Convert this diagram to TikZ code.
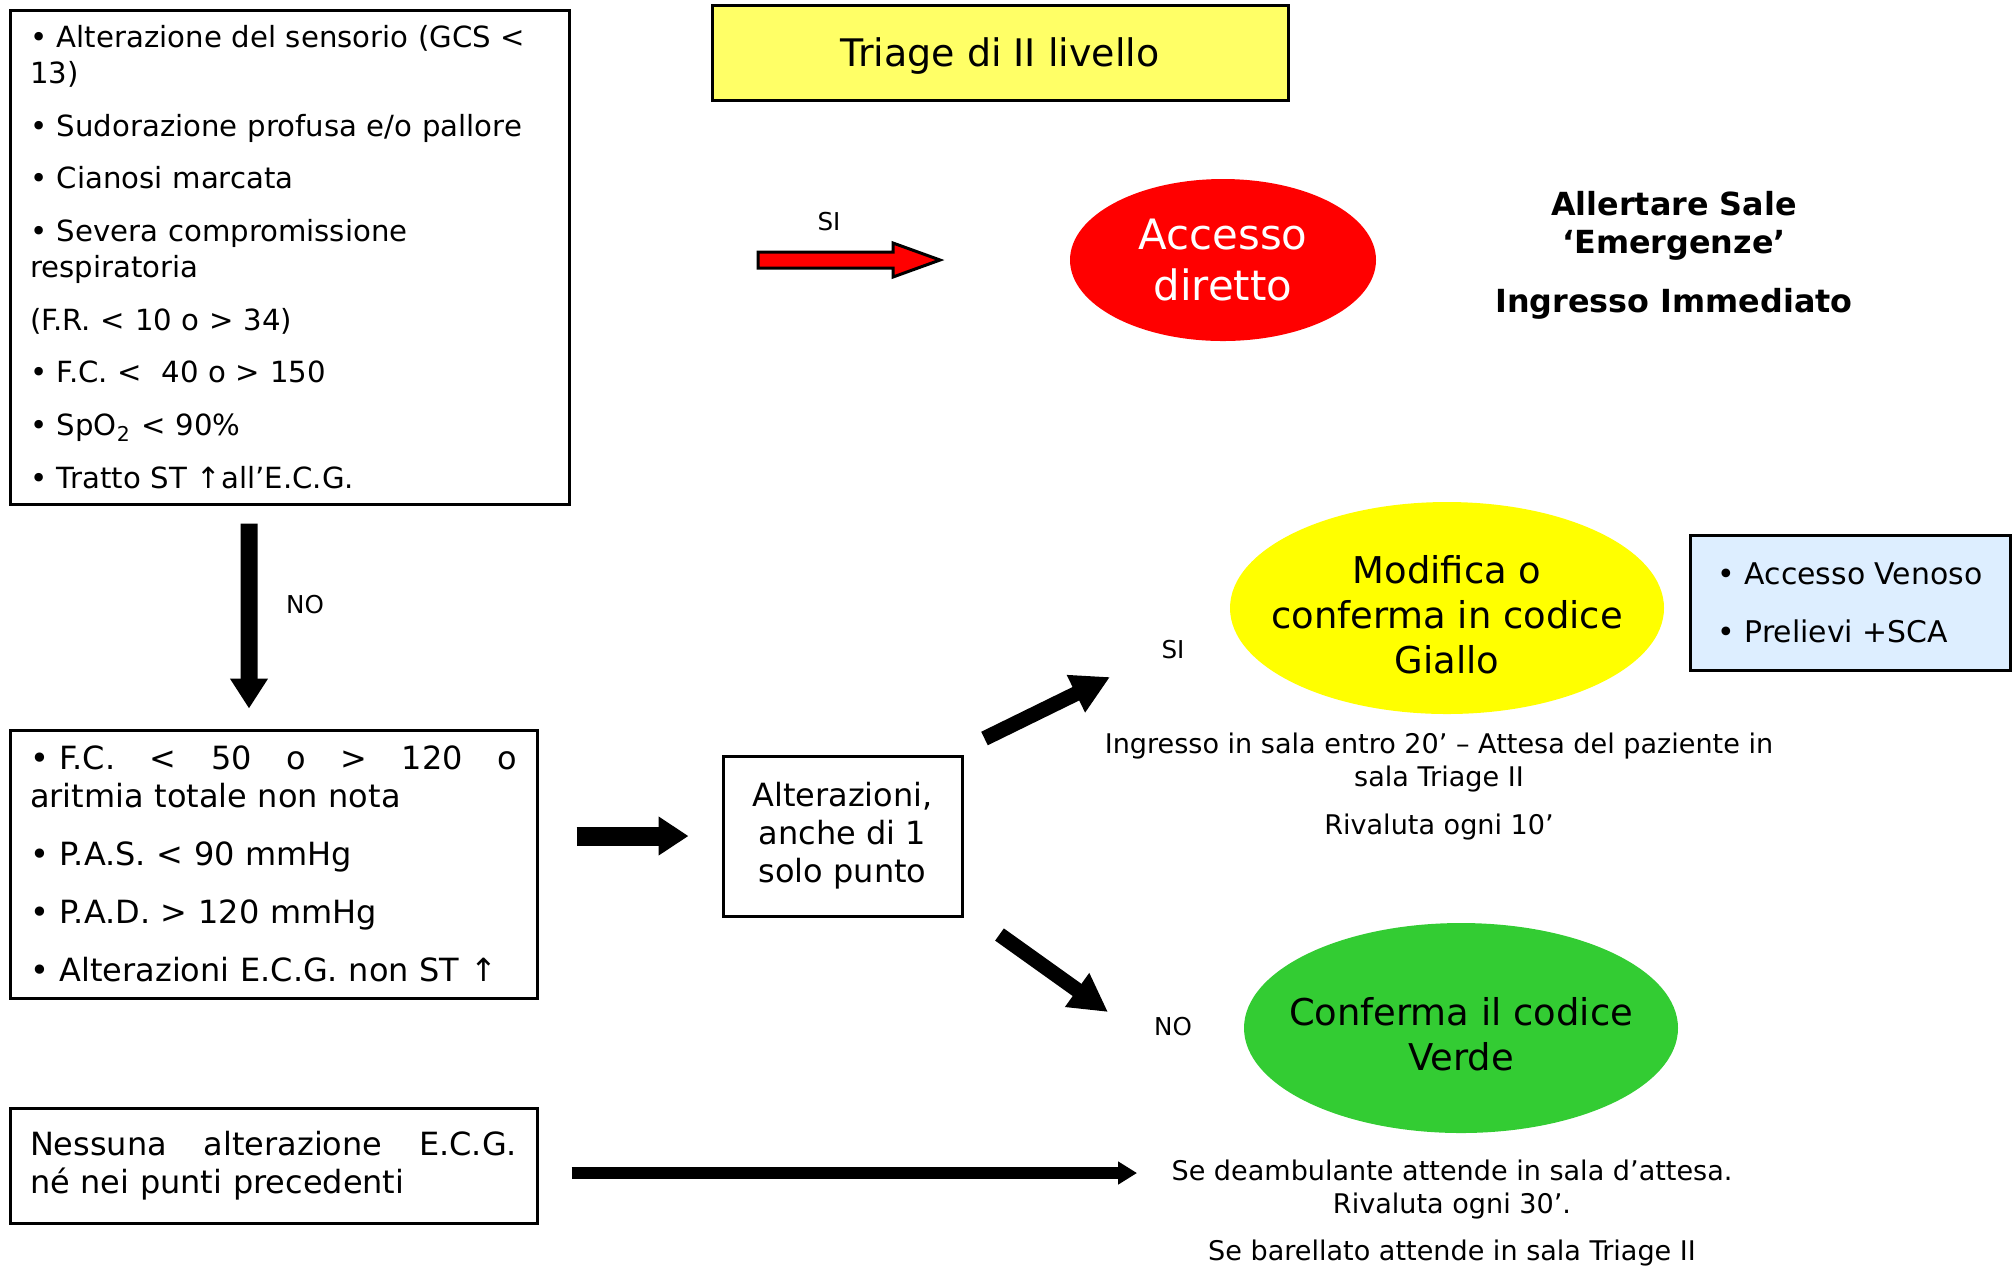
\documentclass[tikz,border=0pt]{standalone}
\usepackage{fontspec}
\setmainfont{DejaVu Sans}
\usepackage{tikz}
\usetikzlibrary{shapes.geometric}
\usetikzlibrary{arrows.meta}

\definecolor{triagegiallo}{RGB}{255,255,102}
\definecolor{codgiallo}{RGB}{255,255,0}
\definecolor{codverde}{RGB}{51,204,51}
\definecolor{venoso}{RGB}{221,238,255}

\begin{document}
\begin{tikzpicture}
  [
    crit/.style={
      draw=black,
      line width=0.3mm,
      inner xsep=2mm,
      inner ysep=0mm,
      align=left,
      font=\fontsize{9.1}{10.8}\selectfont
    },
    code/.style={
      ellipse,
      inner sep=0mm,
      align=center,
      font=\fontsize{10.5}{12.8}\selectfont
    },
    codetext/.style={align=center, inner sep=0mm, font=\fontsize{10.5}{12.8}\selectfont},
    note/.style={align=center, font=\fontsize{7.7}{9.4}\selectfont},
    yesno/.style={font=\fontsize{7}{8.4}\selectfont},
    bigarrow/.style={line width=1.8mm, -{Triangle[length=3mm,width=3.6mm]}},
    diagarrow/.style={line width=1.5mm, -{Triangle[length=3.8mm,width=3.9mm]}}
  ]
  \useasboundingbox (0,0) rectangle (20.15,-12.66);

  \node (crit1) at (2.895,-2.57) [crit, text width=5.19cm, minimum height=4.94cm,
      font=\fontsize{8.3}{10.2}\selectfont]
    {• Alterazione del sensorio (GCS <\\13)\\[4.8pt]
     • Sudorazione profusa e/o pallore\\[4.8pt]
     • Cianosi marcata\\[4.8pt]
     • Severa compromissione\\respiratoria\\[4.8pt]
     (F.R. < 10 o > 34)\\[4.8pt]
     • F.C. <\ \ 40 o > 150\\[4.8pt]
     • SpO\textsubscript{2} < 90\%\\[4.8pt]
     • Tratto ST ↑all’E.C.G.};

  \node (crit2) at (2.735,-8.64) [crit, text width=4.87cm, minimum height=2.68cm]
    {• F.C.\hfill<\hfill50\hfill o\hfill>\hfill120\hfill o\hspace*{1.6mm}\\
     aritmia totale non nota\\[5.7pt]
     • P.A.S. < 90 mmHg\\[5.7pt]
     • P.A.D. > 120 mmHg\\[5.7pt]
     • Alterazioni E.C.G. non ST ↑};

  \node (crit3) at (2.735,-11.655) [crit, text width=4.87cm, minimum height=1.15cm]
    {Nessuna\hfill alterazione\hfill E.C.G.\hspace*{1.6mm}\\
     né nei punti precedenti};

  \node (triage) at (10.00,-0.525) [draw, line width=0.3mm, fill=triagegiallo,
      minimum width=5.76cm, minimum height=0.95cm, inner sep=0mm, text depth=0pt,
      font=\fontsize{10.8}{13}\selectfont] {Triage di II livello};

  \node (accesso) at (12.23,-2.60) [code, fill=red, text=white, minimum width=3.06cm,
      minimum height=1.62cm, font=\fontsize{11.9}{14.5}\selectfont] {Accesso\\diretto};
  \node (allerta) at (16.74,-2.55) [align=center, font=\bfseries\fontsize{9.05}{10.8}\selectfont]
    {Allertare Sale\\‘Emergenze’\\[6pt]Ingresso Immediato};

  \node (alter) at (8.425,-8.36) [draw, line width=0.3mm, minimum width=2.39cm,
      minimum height=1.60cm, inner sep=0mm, align=center,
      font=\fontsize{9.1}{10.8}\selectfont] {Alterazioni,\\anche di 1\\solo punto};

  \node (giallo) at (14.47,-6.08) [code, fill=codgiallo, minimum width=4.34cm,
      minimum height=2.12cm,
      label={[codetext, yshift=-0.7mm]center:Modifica o\\conferma in codice\\Giallo}] {};
  \node (prelievi) at (18.50,-6.025) [draw, line width=0.3mm, fill=venoso,
      minimum width=3.20cm, minimum height=1.35cm, inner sep=0mm, align=left,
      font=\fontsize{8.5}{10.3}\selectfont] {• Accesso Venoso\\[6.2pt]• Prelievi +SCA};
  \node (gialloinfo) at (14.39,-7.865) [note]
    {Ingresso in sala entro 20’ – Attesa del paziente in\\sala Triage II\\[4.3pt]Rivaluta ogni 10’};

  \node (verde) at (14.61,-10.28) [code, fill=codverde, minimum width=4.34cm,
      minimum height=2.10cm,
      label={[codetext, yshift=-0.6mm]center:Conferma il codice\\Verde}] {};
  \node (verdeinfo) at (14.52,-12.13) [note]
    {Se deambulante attende in sala d’attesa.\\Rivaluta ogni 30’.\\[3.7pt]Se barellato attende in sala Triage II};

  \node (si1) at (8.29,-2.22)  [yesno] {SI};
  \node (no1) at (3.05,-6.05)  [yesno] {NO};
  \node (si2) at (11.73,-6.50) [yesno] {SI};
  \node (no2) at (11.73,-10.27) [yesno] {NO};

  \coordinate (accessoin) at (9.40,-2.60);
  \coordinate (gialloin) at (11.10,-6.77);
  \coordinate (verdein) at (11.08,-10.12);
  \coordinate (lungoin) at (11.37,-11.73);

  % freccia rossa SI
  \draw [fill=red, draw=black, line width=0.3mm] (accessoin) -- ++(-0.47,0.17) -- ++(0,-0.09)
    -- ++(-1.35,0) -- ++(0,-0.16) -- ++(1.35,0) -- ++(0,-0.09) -- cycle;

  \draw [bigarrow, line width=1.7mm, shorten <=1.8mm, shorten >=2mm]
    ([xshift=-4.05mm]crit1.south) -- ([xshift=-2.45mm]crit2.north);
  \draw [bigarrow, line width=1.9mm, -{Triangle[length=3mm,width=3.7mm]}, shorten <=3.8mm, shorten >=3.3mm]
    (crit2.east |- alter.west) -- (alter.west);
  \draw [diagarrow] ([shift={(0.21,0.16)}]alter.north east) -- (gialloin);
  \draw [diagarrow] ([shift={(0.36,-0.17)}]alter.south east) -- (verdein);
  \draw [line width=1.2mm, -{Triangle[length=1.9mm,width=2.2mm]}, shorten <=3.3mm]
    (crit3.east |- lungoin) -- (lungoin);
\end{tikzpicture}
\end{document}
